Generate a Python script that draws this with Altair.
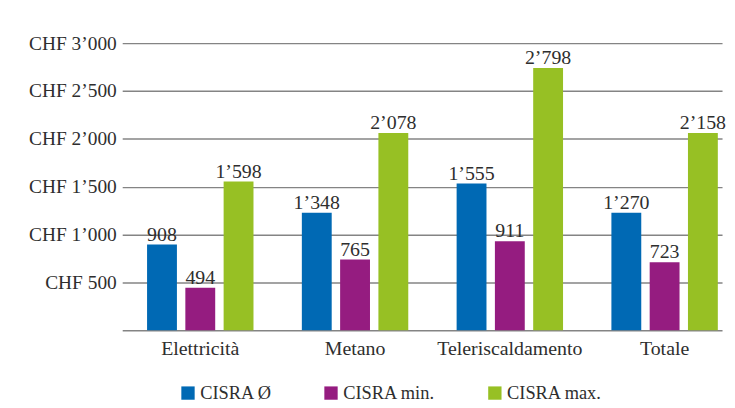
import altair as alt
import pandas as pd

categories = ["Elettricità", "Metano", "Teleriscaldamento", "Totale"]
series = ["CISRA Ø", "CISRA min.", "CISRA max."]
colors = ["#0069b4", "#951c80", "#97c024"]

# bar heights as drawn in the picture
avg_vals = [894, 1227, 1532, 1227]
min_vals = [442, 738, 928, 710]
max_vals = [1553, 2060, 2740, 2060]

# value labels as printed
avg_labels = ["908", "1’348", "1’555", "1’270"]
min_labels = ["494", "765", "911", "723"]
max_labels = ["1’598", "2’078", "2’798", "2’158"]

y_ticks = [0, 500, 1000, 1500, 2000, 2500, 3000]

rows = []
for s, vals, labs in zip(series, [avg_vals, min_vals, max_vals], [avg_labels, min_labels, max_labels]):
    for c, v, l in zip(categories, vals, labs):
        rows.append({"cat": c, "series": s, "value": v, "label": l})
df = pd.DataFrame(rows)

FONT = "Liberation Serif"
TXT = "#2e2e2e"

x = alt.X(
    "cat:N",
    sort=categories,
    title=None,
    scale=alt.Scale(paddingInner=0.258, paddingOuter=0.0667, align=1),
    axis=alt.Axis(
        domain=False, ticks=False, labelAngle=0, labelFont=FONT, labelFontSize=20,
        labelColor=TXT, labelPadding=9, grid=False,
    ),
)
xo = alt.XOffset("series:N", sort=series, scale=alt.Scale(paddingInner=0.22, paddingOuter=0.11))
y = alt.Y(
    "value:Q",
    title=None,
    scale=alt.Scale(domain=[0, 3000], nice=False),
    axis=alt.Axis(
        values=y_ticks, domain=False, ticks=False, grid=True, gridColor="#848484",
        gridWidth=1.5, labelFont=FONT, labelFontSize=19.5, labelColor=TXT,
        labelPadding=6, minExtent=115, maxExtent=115,
        labelExpr="datum.value == 0 ? '' : 'CHF ' + replace(format(datum.value, ',d'), ',', '’')",
    ),
)

bars = alt.Chart(df).mark_bar().encode(
    x=x,
    xOffset=xo,
    y=y,
    color=alt.Color(
        "series:N",
        sort=series,
        scale=alt.Scale(domain=series, range=colors),
        legend=alt.Legend(
            title=None, orient="none", legendX=57, legendY=343, direction="horizontal",
            symbolType="square", symbolSize=180, symbolStrokeWidth=0,
            labelFont=FONT, labelFontSize=18.5, labelColor=TXT, labelOffset=3,
            columnPadding=50,
        ),
    ),
)

texts = alt.Chart(df).mark_text(
    dy=-4, baseline="alphabetic", font=FONT, fontSize=20, color=TXT
).encode(x=x, xOffset=xo, y=y, text="label:N")

chart = (
    alt.layer(bars, texts)
    .properties(width=604, height=289, padding={"left": 0, "top": 24, "right": 0, "bottom": 0},
                background="#ffffff")
    .configure_view(stroke=None)
)

chart.save("out.html", embed_options={"renderer": "svg", "actions": False})
